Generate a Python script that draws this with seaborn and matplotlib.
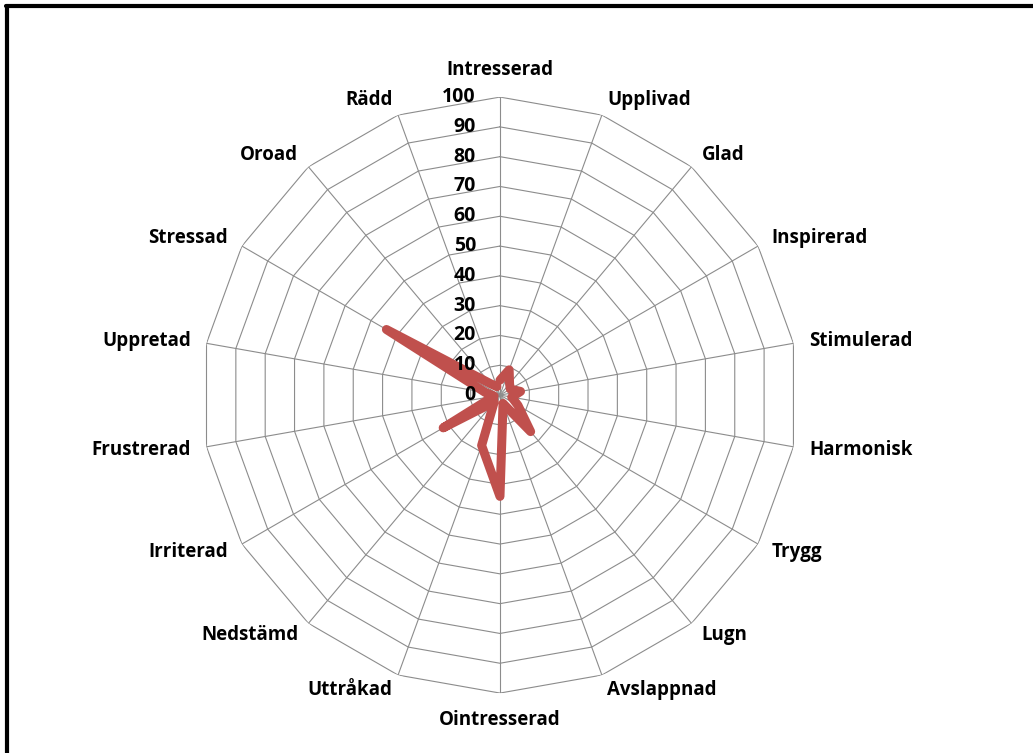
import numpy as np
import pandas as pd
import matplotlib
matplotlib.use("Agg")
import matplotlib.pyplot as plt
import seaborn as sns

# Emotion categories, clockwise from the top
categories = [
    "Intresserad", "Upplivad", "Glad", "Inspirerad", "Stimulerad", "Harmonisk",
    "Trygg", "Lugn", "Avslappnad", "Ointresserad", "Uttråkad", "Nedstämd",
    "Irriterad", "Frustrerad", "Uppretad", "Stressad", "Oroad", "Rädd",
]
values = [5, 9, 5, 4, 7, 4, 7, 16, 3, 34, 18, 3, 22, 2, 5, 44, 5, 3]
ring_levels = [0, 10, 20, 30, 40, 50, 60, 70, 80, 90, 100]

sns.set_theme(style="white")
plt.rcParams["font.family"] = ["Open Sans", "DejaVu Sans"]

LINE_RED = "#C0504D"
GRID_GREY = "#8C8C8C"

fig = plt.figure(figsize=(10.33, 7.53), dpi=100)
fig.patch.set_facecolor("white")

# frame lines along the top and left edges
fig.add_artist(plt.Line2D([0.0055, 1.0], [0.9915, 0.9915], color="black", lw=3.0,
                          transform=fig.transFigure))
fig.add_artist(plt.Line2D([0.0065, 0.0065], [0.0, 0.9915], color="black", lw=3.0,
                          transform=fig.transFigure))

ax = fig.add_axes([0.1955, 0.0796, 0.577, 0.7915], projection="polar")
ax.set_theta_zero_location("N")
ax.set_theta_direction(-1)
ax.set_ylim(0, 100)
ax.grid(False)
ax.spines["polar"].set_visible(False)
ax.set_xticks([])
ax.set_yticks([])
ax.set_facecolor("none")

n = len(categories)
angles = np.arange(n) * 2 * np.pi / n

# polygonal rings and spokes
closed_angles = np.append(angles, angles[0])
for lvl in ring_levels[1:]:
    ax.plot(closed_angles, np.full(n + 1, lvl), color=GRID_GREY, lw=0.8, zorder=1)
for a in angles:
    ax.plot([a, a], [0, ring_levels[-1]], color=GRID_GREY, lw=0.8, zorder=1)

# data series, closed back to the first category
df = pd.DataFrame({
    "theta": np.append(angles, angles[0]),
    "value": values + [values[0]],
})
sns.lineplot(data=df, x="theta", y="value", sort=False, ax=ax, color=LINE_RED,
             lw=6.5, zorder=3, legend=False)
for line in ax.lines[-1:]:
    line.set_solid_joinstyle("round")
    line.set_solid_capstyle("round")
ax.set_xlabel("")
ax.set_ylabel("")

# category labels around the outside
for a, lab in zip(angles, categories):
    s = np.sin(a)
    if abs(s) < 1e-6:
        ha, r = "center", 109.2
    elif s > 0:
        ha, r = "left", 105.3
    else:
        ha, r = "right", 105.3
    ax.text(a, r, lab, ha=ha, va="center", fontsize=13.5, fontweight="bold",
            color="black", clip_on=False)

# radial value labels along the vertical axis
trans = ax.transData
for lvl in ring_levels:
    x_pix, y_pix = trans.transform((0, lvl))
    fig.text((x_pix - 24) / fig.bbox.width, y_pix / fig.bbox.height, str(lvl),
             ha="right", va="center", fontsize=14, fontweight="bold", color="black")

fig.savefig("out.png", dpi=100, facecolor="white")
